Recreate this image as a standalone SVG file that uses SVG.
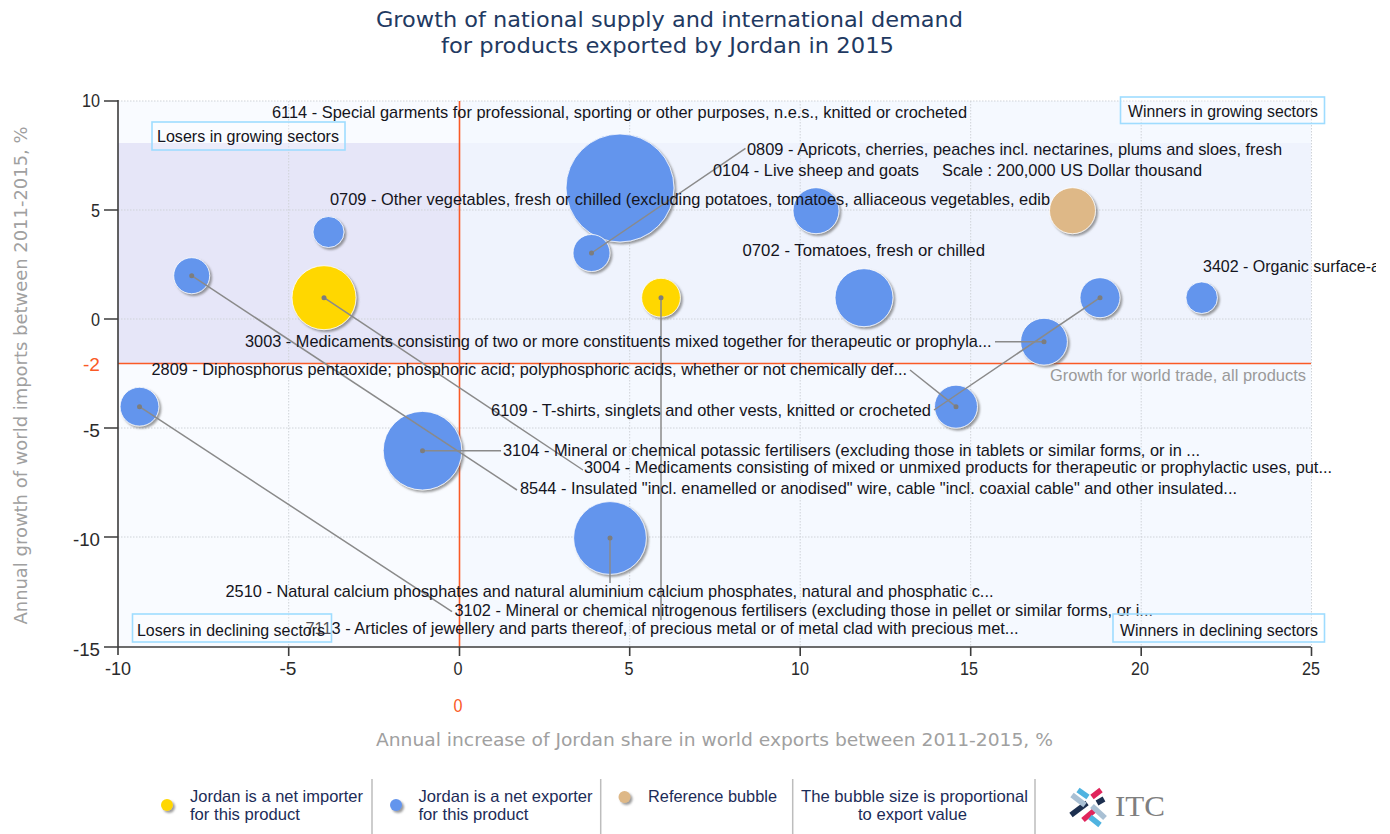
<svg xmlns="http://www.w3.org/2000/svg" width="1390" height="834" viewBox="0 0 1390 834">
<style>
text{font-family:"Liberation Sans",Arial,sans-serif}
.v{font-family:"DejaVu Sans",Verdana,sans-serif}
.l{font-size:17px;fill:#141420}
.t{font-size:19px;fill:#2a2a2a}
.k{font-size:16.500px;fill:#1c2c58}
.title{font-size:22px;fill:#1f3a62}
.axt{font-size:17.500px;fill:#a0a0a0}
.grid{stroke:#cfd3d8;stroke-width:1;stroke-dasharray:1.5 1.5;fill:none}
.ax{stroke:#3c3c3c;stroke-width:1.6;fill:none}
.red{stroke:#fa5a26;stroke-width:1.6;fill:none}
.box{fill:#fff;fill-opacity:.25;stroke:#9fdcff;stroke-width:1.6}
.b{stroke:#fff;stroke-width:.8;filter:url(#sh)}
.blue{fill:#6495ed}.yel{fill:#ffd700}.ref{fill:#deb887}
.c line{stroke:#8a8a8a;stroke-width:1.5}
.c circle{fill:#7d7d7d}
.sep{stroke:#bdbdbd;stroke-width:1.5}
.logo line{stroke-width:5.500}
</style>
<defs>
<filter id="sh" x="-20%" y="-20%" width="150%" height="150%"><feDropShadow dx="2" dy="2" stdDeviation="1" flood-color="#666" flood-opacity=".65"/></filter>
<clipPath id="edge"><rect x="0" y="0" width="1376" height="834"/></clipPath>
</defs>
<rect width="1390" height="834" fill="#fff"/>
<g id="title">
<text class="v title" x="376" y="27" textLength="587" lengthAdjust="spacingAndGlyphs">Growth of national supply and international demand</text>
<text class="v title" x="441" y="53" textLength="453" lengthAdjust="spacingAndGlyphs">for products exported by Jordan in 2015</text>
</g>
<g id="plot-background">
<rect x="118" y="101" width="341" height="42" fill="#f9fbff"/>
<rect x="459" y="101" width="852" height="42" fill="#f5f9ff"/>
<rect x="118" y="143" width="341" height="220" fill="#e6e6f8"/>
<rect x="459" y="143" width="852" height="220" fill="#eff3fd"/>
<rect x="118" y="363" width="341" height="284" fill="#f9fbff"/>
<rect x="459" y="363" width="852" height="284" fill="#f5f9ff"/>
</g>
<g id="grid">
<path class="grid" d="M118 101H1311M118 210H1311M118 319H1311M118 428H1311M118 537H1311M288.700 101V647M629.700 101V647M800.200 101V647M970.700 101V647M1141.200 101V647M1311.500 101V647"/>
</g>
<g id="reference-lines">
<line class="red" x1="459.500" y1="101" x2="459.500" y2="647"/>
<line class="red" x1="118" y1="363.500" x2="1311" y2="363.500"/>
</g>
<g id="axes">
<path class="ax" d="M118 100V655M118 647H1311"/>
<path class="ax" d="M104 101H118M104 210H118M104 319H118M104 428H118M104 537H118M104 647H118"/>
<path class="ax" d="M288.700 647V656M459.500 647V656M629.700 647V656M800.200 647V656M970.700 647V656M1141.200 647V656M1311.500 647V656"/>
<g text-anchor="end">
<text class="t" x="100" y="107" textLength="18" lengthAdjust="spacingAndGlyphs">10</text>
<text class="t" x="100" y="217" textLength="9" lengthAdjust="spacingAndGlyphs">5</text>
<text class="t" x="100" y="326" textLength="9" lengthAdjust="spacingAndGlyphs">0</text>
<text class="t" x="100" y="371" style="fill:#fa5a26" textLength="17" lengthAdjust="spacingAndGlyphs">-2</text>
<text class="t" x="100" y="437" textLength="17" lengthAdjust="spacingAndGlyphs">-5</text>
<text class="t" x="100" y="546" textLength="27" lengthAdjust="spacingAndGlyphs">-10</text>
<text class="t" x="100" y="656" textLength="27" lengthAdjust="spacingAndGlyphs">-15</text>
</g>
<g text-anchor="middle">
<text class="t" x="118" y="675" textLength="26" lengthAdjust="spacingAndGlyphs">-10</text>
<text class="t" x="288" y="675" textLength="17" lengthAdjust="spacingAndGlyphs">-5</text>
<text class="t" x="458" y="675" textLength="9" lengthAdjust="spacingAndGlyphs">0</text>
<text class="t" x="629" y="675" textLength="9" lengthAdjust="spacingAndGlyphs">5</text>
<text class="t" x="800" y="675" textLength="18" lengthAdjust="spacingAndGlyphs">10</text>
<text class="t" x="969" y="675" textLength="18" lengthAdjust="spacingAndGlyphs">15</text>
<text class="t" x="1140" y="675" textLength="18" lengthAdjust="spacingAndGlyphs">20</text>
<text class="t" x="1311" y="675" textLength="18" lengthAdjust="spacingAndGlyphs">25</text>
<text class="t" x="458" y="712" style="fill:#fa5a26" textLength="9" lengthAdjust="spacingAndGlyphs">0</text>
</g>
<text class="v axt" x="376" y="746" textLength="677" lengthAdjust="spacingAndGlyphs">Annual increase of Jordan share in world exports between 2011-2015, %</text>
<text class="v axt" transform="translate(27 624.500) rotate(-90)" textLength="498" lengthAdjust="spacingAndGlyphs">Annual growth of world imports between 2011-2015, %</text>
</g>
<g id="bubbles">
<g id="bubble-0809"><circle class="b blue" cx="620" cy="188" r="54"/></g>
<g id="bubble-0104"><circle class="b blue" cx="591.500" cy="253" r="18.500"/></g>
<g id="bubble-0709"><circle class="b blue" cx="328.500" cy="232" r="15.500"/></g>
<g id="bubble-8544"><circle class="b blue" cx="191.700" cy="275.700" r="18"/></g>
<g id="bubble-3004"><circle class="b yel" cx="324" cy="297.700" r="32"/></g>
<g id="bubble-7113"><circle class="b yel" cx="661" cy="297.700" r="19.400"/></g>
<g id="bubble-6114"><circle class="b blue" cx="816" cy="210.700" r="23"/></g>
<g id="bubble-0702"><circle class="b blue" cx="864" cy="297.700" r="29"/></g>
<g id="bubble-6109"><circle class="b blue" cx="1100" cy="297.700" r="20"/></g>
<g id="bubble-3402"><circle class="b blue" cx="1201.700" cy="297.700" r="15.800"/></g>
<g id="bubble-3003"><circle class="b blue" cx="1044" cy="341.700" r="23.400"/></g>
<g id="bubble-2809"><circle class="b blue" cx="956" cy="406.700" r="21.500"/></g>
<g id="bubble-3102"><circle class="b blue" cx="139.500" cy="406.700" r="19.400"/></g>
<g id="bubble-3104"><circle class="b blue" cx="422.500" cy="450.700" r="39.300"/></g>
<g id="bubble-2510"><circle class="b blue" cx="610" cy="538" r="36.400"/></g>
</g>
<g id="connectors" class="c">
<line x1="591.500" y1="253" x2="745.500" y2="148.300"/><circle cx="591.500" cy="253" r="2.500"/>
<line x1="191.700" y1="275.700" x2="517" y2="490"/><circle cx="191.700" cy="275.700" r="2.500"/>
<line x1="324" y1="297.700" x2="583" y2="470"/><circle cx="324" cy="297.700" r="2.500"/>
<line x1="661" y1="297.700" x2="661" y2="620"/><circle cx="661" cy="297.700" r="2.500"/>
<line x1="1100" y1="297.700" x2="934" y2="410"/><circle cx="1100" cy="297.700" r="2.500"/>
<line x1="910" y1="370" x2="956" y2="406.700"/><circle cx="956" cy="406.700" r="2.500"/>
<line x1="1044" y1="341.700" x2="995" y2="341.700"/><circle cx="1044" cy="341.700" r="2.500"/>
<line x1="422.500" y1="450.700" x2="501" y2="450.700"/><circle cx="422.500" cy="450.700" r="2.500"/>
<line x1="610" y1="538" x2="610" y2="583"/><circle cx="610" cy="538" r="2.500"/>
<line x1="139.500" y1="406.700" x2="452" y2="611.700"/><circle cx="139.500" cy="406.700" r="2.500"/>
</g>
<g id="labels">
<text class="l" x="272" y="118" textLength="695" lengthAdjust="spacingAndGlyphs">6114 - Special garments for professional, sporting or other purposes, n.e.s., knitted or crocheted</text>
<text class="l" x="747" y="155" textLength="535" lengthAdjust="spacingAndGlyphs">0809 - Apricots, cherries, peaches incl. nectarines, plums and sloes, fresh</text>
<text class="l" x="713" y="176" textLength="206" lengthAdjust="spacingAndGlyphs">0104 - Live sheep and goats</text>
<text class="l" x="942" y="176" textLength="260" lengthAdjust="spacingAndGlyphs">Scale : 200,000 US Dollar thousand</text>
<text class="l" x="330" y="205" textLength="720" lengthAdjust="spacingAndGlyphs">0709 - Other vegetables, fresh or chilled (excluding potatoes, tomatoes, alliaceous vegetables, edib</text>
<text class="l" x="742.500" y="256" textLength="242.500" lengthAdjust="spacingAndGlyphs">0702 - Tomatoes, fresh or chilled</text>
<g clip-path="url(#edge)"><text class="l" x="1203" y="271.500" textLength="177" lengthAdjust="spacingAndGlyphs">3402 - Organic surface-a</text></g>
<text class="l" x="245" y="346.500" textLength="746.500" lengthAdjust="spacingAndGlyphs">3003 - Medicaments consisting of two or more constituents mixed together for therapeutic or prophyla...</text>
<text class="l" x="151.500" y="375" textLength="755.500" lengthAdjust="spacingAndGlyphs">2809 - Diphosphorus pentaoxide; phosphoric acid; polyphosphoric acids, whether or not chemically def...</text>
<text class="l" x="1050" y="381" textLength="256" lengthAdjust="spacingAndGlyphs" style="fill:#9a9a9a">Growth for world trade, all products</text>
<text class="l" x="491" y="415.500" textLength="440" lengthAdjust="spacingAndGlyphs">6109 - T-shirts, singlets and other vests, knitted or crocheted</text>
<text class="l" x="503" y="456" textLength="697" lengthAdjust="spacingAndGlyphs">3104 - Mineral or chemical potassic fertilisers (excluding those in tablets or similar forms, or in ...</text>
<text class="l" x="584" y="473" textLength="748" lengthAdjust="spacingAndGlyphs">3004 - Medicaments consisting of mixed or unmixed products for therapeutic or prophylactic uses, put...</text>
<text class="l" x="520" y="494" textLength="717" lengthAdjust="spacingAndGlyphs">8544 - Insulated "incl. enamelled or anodised" wire, cable "incl. coaxial cable" and other insulated...</text>
<text class="l" x="225.500" y="597" textLength="768" lengthAdjust="spacingAndGlyphs">2510 - Natural calcium phosphates and natural aluminium calcium phosphates, natural and phosphatic c...</text>
<text class="l" x="454.500" y="616" textLength="698.500" lengthAdjust="spacingAndGlyphs">3102 - Mineral or chemical nitrogenous fertilisers (excluding those in pellet or similar forms, or i...</text>
<text class="l" x="305.500" y="634" textLength="713" lengthAdjust="spacingAndGlyphs">7113 - Articles of jewellery and parts thereof, of precious metal or of metal clad with precious met...</text>
</g>
<g id="bubble-reference"><circle class="b ref" cx="1072.500" cy="210.700" r="23"/></g>
<g id="quadrant-losers-growing"><rect class="box" x="152" y="122" width="193" height="28"/><text class="l" x="157" y="142" textLength="182" lengthAdjust="spacingAndGlyphs">Losers in growing sectors</text></g>
<g id="quadrant-winners-growing"><rect class="box" x="1120.500" y="97" width="204" height="26.500"/><text class="l" x="1128" y="116.500" textLength="190" lengthAdjust="spacingAndGlyphs">Winners in growing sectors</text></g>
<g id="quadrant-losers-declining"><rect class="box" x="132.500" y="614" width="199" height="28"/><text class="l" x="137" y="635.500" textLength="188" lengthAdjust="spacingAndGlyphs">Losers in declining sectors</text></g>
<g id="quadrant-winners-declining"><rect class="box" x="1113" y="614" width="211.500" height="28"/><text class="l" x="1120" y="635.500" textLength="198" lengthAdjust="spacingAndGlyphs">Winners in declining sectors</text></g>
<g id="legend">
<line class="sep" x1="372" y1="779" x2="372" y2="834"/>
<line class="sep" x1="600.700" y1="779" x2="600.700" y2="834"/>
<line class="sep" x1="792.700" y1="779" x2="792.700" y2="834"/>
<line class="sep" x1="1035" y1="779" x2="1035" y2="834"/>
<g id="legend-importer"><circle class="b yel" style="stroke:none" cx="167" cy="805" r="6"/>
<text class="k" x="190" y="802" textLength="173" lengthAdjust="spacingAndGlyphs">Jordan is a net importer</text>
<text class="k" x="190" y="820" textLength="110" lengthAdjust="spacingAndGlyphs">for this product</text></g>
<g id="legend-exporter"><circle class="b blue" style="stroke:none" cx="396" cy="805" r="6"/>
<text class="k" x="418.500" y="802" textLength="174" lengthAdjust="spacingAndGlyphs">Jordan is a net exporter</text>
<text class="k" x="418.500" y="820" textLength="110" lengthAdjust="spacingAndGlyphs">for this product</text></g>
<g id="legend-reference"><circle class="b ref" style="stroke:none" cx="624.500" cy="797" r="6"/>
<text class="k" x="648" y="802" textLength="129" lengthAdjust="spacingAndGlyphs">Reference bubble</text></g>
<g id="legend-note">
<text class="k" x="801" y="802" textLength="227" lengthAdjust="spacingAndGlyphs">The bubble size is proportional</text>
<text class="k" x="858" y="820" textLength="109" lengthAdjust="spacingAndGlyphs">to export value</text></g>
<g id="logo" class="logo">
<line x1="1078" y1="790" x2="1088" y2="797" stroke="#4fb3e0"/>
<line x1="1092" y1="797" x2="1101" y2="790" stroke="#e0255c"/>
<line x1="1097" y1="803" x2="1104" y2="799" stroke="#1c2f4f"/>
<line x1="1071" y1="815" x2="1087" y2="803" stroke="#1c2f4f"/>
<line x1="1083" y1="820" x2="1096" y2="809" stroke="#e0255c"/>
<line x1="1092" y1="806" x2="1105" y2="818" stroke="#a9c0d4"/>
<line x1="1072" y1="795" x2="1085" y2="805" stroke="#a9c0d4"/>
<line x1="1090" y1="817" x2="1100" y2="825" stroke="#4fb3e0"/>
<text x="1115" y="816" style="font-family:'Liberation Serif',serif;font-size:29px;fill:#7f7f7f" textLength="50" lengthAdjust="spacingAndGlyphs">ITC</text>
</g>
</g>
</svg>
